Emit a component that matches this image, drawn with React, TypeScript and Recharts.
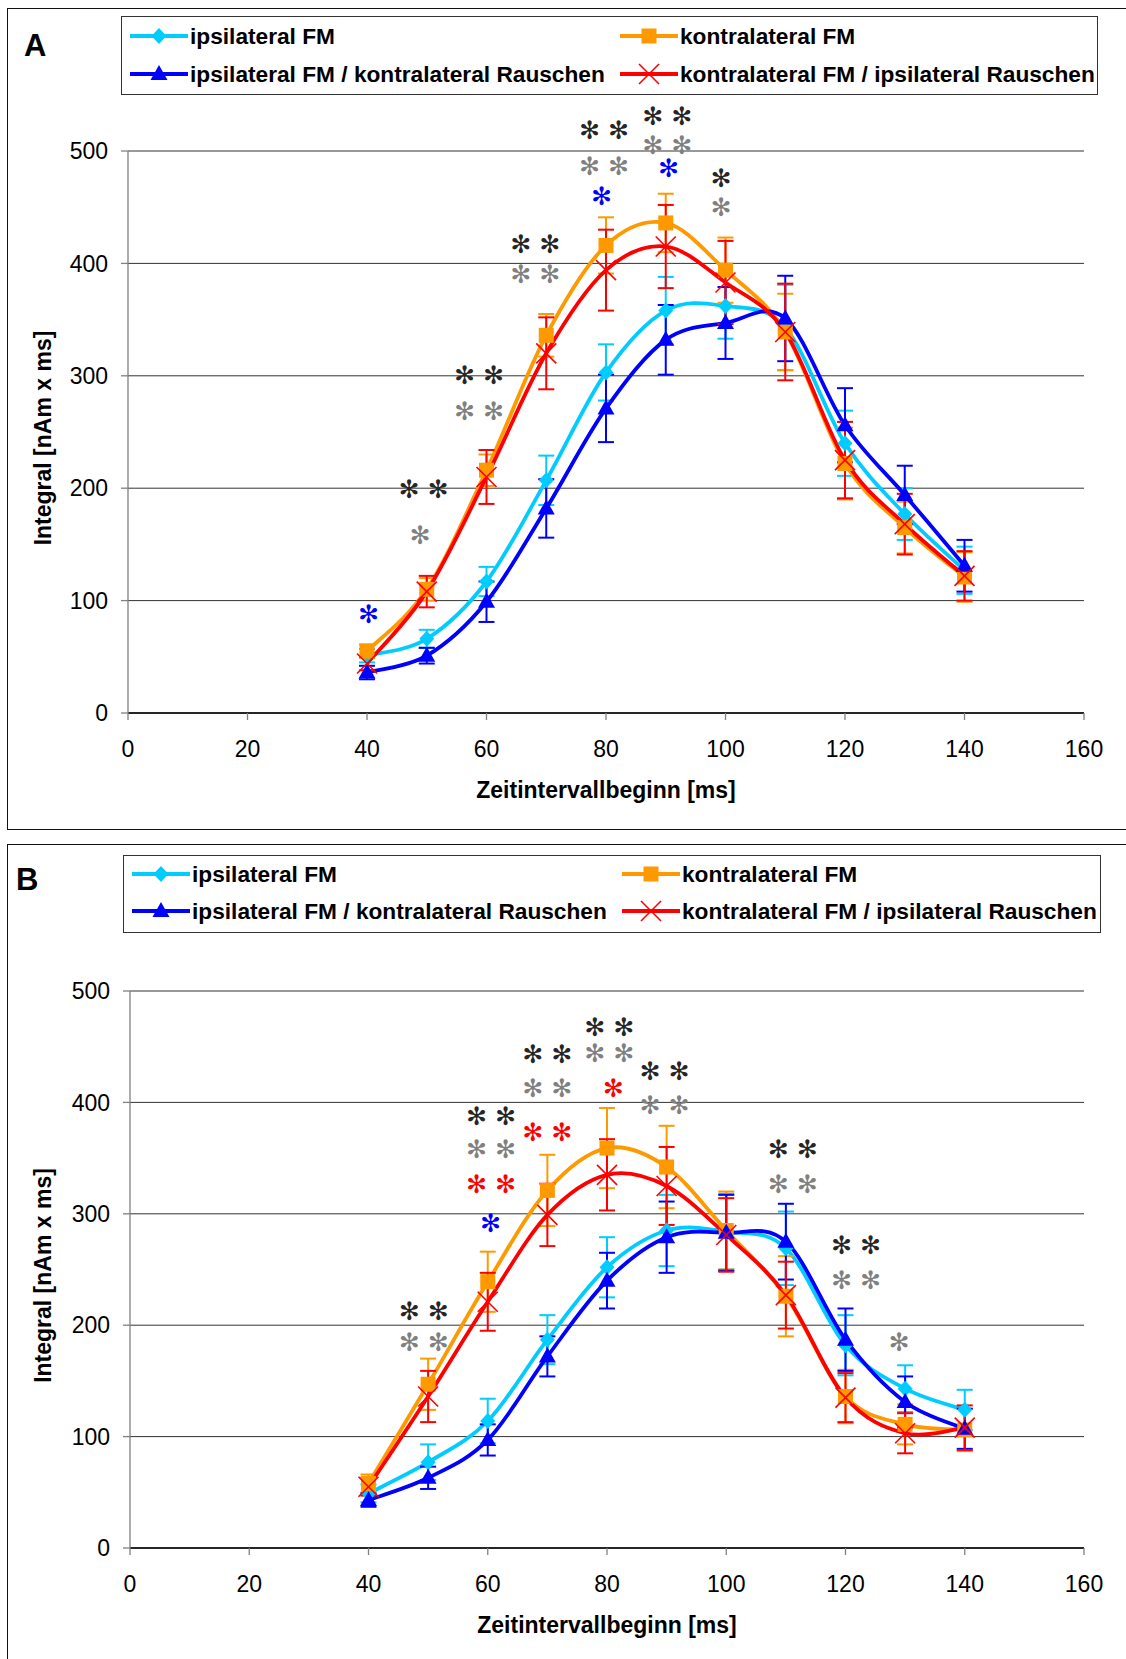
import React from 'react';
import { ComposedChart, Line, XAxis, YAxis, CartesianGrid, ErrorBar, ReferenceDot, Label } from 'recharts';

// ---------- data ----------
const xValues = [40, 50, 60, 70, 80, 90, 100, 110, 120, 130, 140];
const xTicks = [0, 20, 40, 60, 80, 100, 120, 140, 160];
const yTicks = [0, 100, 200, 300, 400, 500];
const seriesNames = [
  'ipsilateral FM',
  'kontralateral FM',
  'ipsilateral FM / kontralateral Rauschen',
  'kontralateral FM / ipsilateral Rauschen',
];
const xTitle = 'Zeitintervallbeginn [ms]';
const yTitle = 'Integral [nAm x ms]';

// Panel A
const cyanA = [51, 66, 117, 207, 303, 358, 362, 343, 240, 177, 127];
const orangeA = [55, 110, 216, 336, 416, 436, 394, 339, 222, 165, 121];
const blueA = [36, 51, 99, 182, 271, 332, 347, 351, 256, 194, 131];
const redA = [44, 108, 210, 320, 394, 415, 383, 339, 225, 168, 122];
const cyanErrA = [6, 8, 13, 22, 25, 30, 29, 38, 29, 23, 21];
const orangeErrA = [6, 10, 14, 19, 25, 26, 29, 34, 32, 23, 22];
const blueErrA = [6, 7, 18, 26, 30, 31, 32, 38, 33, 26, 23];
const redErrA = [6, 14, 24, 32, 36, 37, 37, 43, 34, 27, 22];

// Panel B
const cyanB = [49, 77, 114, 187, 252, 285, 284, 269, 182, 143, 124];
const orangeB = [58, 147, 239, 321, 359, 342, 285, 226, 136, 111, 106];
const blueB = [43, 63, 97, 172, 240, 279, 283, 275, 187, 131, 107];
const redB = [55, 136, 221, 299, 335, 325, 281, 227, 135, 103, 108];
const cyanErrB = [8, 16, 20, 22, 27, 32, 34, 33, 27, 21, 18];
const orangeErrB = [8, 23, 27, 32, 36, 37, 35, 36, 24, 18, 19];
const blueErrB = [6, 10, 14, 18, 25, 32, 34, 34, 28, 23, 18];
const redErrB = [8, 23, 26, 28, 32, 35, 33, 30, 22, 18, 20];

// significance stars: [x, y, count, colour]
const starsA: [number, number, number, string][] = [
  [40.3, 88, 1, 'blue'],
  [49.5, 199, 2, 'dark'],
  [48.9, 158, 1, 'gray'],
  [58.8, 301, 2, 'dark'],
  [58.8, 269, 2, 'gray'],
  [68.2, 417, 2, 'dark'],
  [68.2, 391, 2, 'gray'],
  [79.7, 519, 2, 'dark'],
  [79.7, 487, 2, 'gray'],
  [79.3, 460, 1, 'blue'],
  [90.3, 531, 2, 'dark'],
  [90.3, 505, 2, 'gray'],
  [90.5, 485, 1, 'blue'],
  [99.3, 476, 1, 'dark'],
  [99.3, 450, 1, 'gray'],
];
const starsB: [number, number, number, string][] = [
  [49.3, 213, 2, 'dark'],
  [49.3, 185, 2, 'gray'],
  [60.6, 388, 2, 'dark'],
  [60.6, 358, 2, 'gray'],
  [60.6, 327, 2, 'red'],
  [60.5, 292, 1, 'blue'],
  [70.0, 443, 2, 'dark'],
  [70.0, 413, 2, 'gray'],
  [70.0, 373, 2, 'red'],
  [80.4, 468, 2, 'dark'],
  [80.4, 444, 2, 'gray'],
  [81.1, 413, 1, 'red'],
  [89.7, 428, 2, 'dark'],
  [89.7, 398, 2, 'gray'],
  [111.2, 358, 2, 'dark'],
  [111.2, 327, 2, 'gray'],
  [121.8, 272, 2, 'dark'],
  [121.8, 241, 2, 'gray'],
  [129.0, 185, 1, 'gray'],
];

// ---------- styles ----------
const FONT = '"Liberation Sans", Arial, sans-serif';
const COL = { cyan: '#00CCFF', orange: '#FF9900', blue: '#0000FF', red: '#FF0000' };
const STAR_COL: Record<string, string> = { dark: '#262626', gray: '#808080', blue: '#0000FF', red: '#FF0000' };
const seriesColors = [COL.cyan, COL.orange, COL.blue, COL.red];
const seriesMarkers = ['diamond', 'square', 'triangle', 'cross'];

// Excel-like smoothed curve (Catmull-Rom as cubic Bezier)
const smoothCurve: any = (context: any) => {
  let pts: number[][] = [];
  return {
    areaStart() {},
    areaEnd() {},
    lineStart() { pts = []; },
    point(x: number, y: number) { pts.push([+x, +y]); },
    lineEnd() {
      if (!pts.length) return;
      context.moveTo(pts[0][0], pts[0][1]);
      for (let i = 0; i < pts.length - 1; i++) {
        const p0 = pts[i - 1] || pts[i];
        const p1 = pts[i];
        const p2 = pts[i + 1];
        const p3 = pts[i + 2] || pts[i + 1];
        context.bezierCurveTo(
          p1[0] + (p2[0] - p0[0]) / 6, p1[1] + (p2[1] - p0[1]) / 6,
          p2[0] - (p3[0] - p1[0]) / 6, p2[1] - (p3[1] - p1[1]) / 6,
          p2[0], p2[1]
        );
      }
    },
  };
};

function Marker({ kind, cx, cy, color }: { kind: string; cx: number; cy: number; color: string }) {
  if (kind === 'diamond') {
    return <polygon points={`${cx},${cy - 8} ${cx + 7.5},${cy} ${cx},${cy + 8} ${cx - 7.5},${cy}`} fill={color} />;
  }
  if (kind === 'square') {
    return <rect x={cx - 7.5} y={cy - 7.5} width={15} height={15} fill={color} />;
  }
  if (kind === 'triangle') {
    return <polygon points={`${cx},${cy - 9} ${cx + 8.5},${cy + 6} ${cx - 8.5},${cy + 6}`} fill={color} />;
  }
  return (
    <g stroke={color} strokeWidth={1.6}>
      <line x1={cx - 10} y1={cy - 10} x2={cx + 10} y2={cy + 10} />
      <line x1={cx - 10} y1={cy + 10} x2={cx + 10} y2={cy - 10} />
    </g>
  );
}

const makeDot = (kind: string, color: string) => (props: any) => {
  const { cx, cy, index } = props;
  if (cx == null || cy == null) return <g key={`n-${kind}-${index}`} />;
  return (
    <g key={`${kind}-${index}`}>
      <Marker kind={kind} cx={cx} cy={cy} color={color} />
    </g>
  );
};

const makeStar = (count: number, color: string) => (p: any) => {
  const offs = count === 2 ? [-14.5, 14.5] : [0];
  return (
    <text y={p.cy} fill={color} fontSize={25} fontFamily='"DejaVu Sans", sans-serif'
      textAnchor="middle" dominantBaseline="central">
      {offs.map((o, i) => (
        <tspan key={i} x={p.cx + o}>✻</tspan>
      ))}
    </text>
  );
};

function Legend({ left, top, width, height, rows, col1, col2 }: any) {
  const entries = [
    { i: 0, x: col1, y: rows[0] },
    { i: 1, x: col2, y: rows[0] },
    { i: 2, x: col1, y: rows[1] },
    { i: 3, x: col2, y: rows[1] },
  ];
  return (
    <div style={{ position: 'absolute', left, top, width, height, border: '1.5px solid #333', boxSizing: 'border-box', background: '#fff' }}>
      {entries.map((e) => (
        <div key={e.i} style={{ position: 'absolute', left: e.x, top: e.y - 15, height: 30, display: 'flex', alignItems: 'center' }}>
          <svg width={60} height={30} style={{ display: 'block' }}>
            <line x1={1} y1={15} x2={59} y2={15} stroke={seriesColors[e.i]} strokeWidth={3.8} />
            <Marker kind={seriesMarkers[e.i]} cx={30} cy={15} color={seriesColors[e.i]} />
          </svg>
          <span style={{ marginLeft: 1, fontFamily: FONT, fontWeight: 'bold', fontSize: 22.7, color: '#000', whiteSpace: 'nowrap' }}>
            {seriesNames[e.i]}
          </span>
        </div>
      ))}
    </div>
  );
}

function Panel({ width, height, top, yAxisWidth, marginBottom, cyan, orange, blue, red, cyanErr, orangeErr, blueErr, redErr, stars }: any) {
  const data = xValues.map((x, i) => ({
    x,
    c: cyan[i], cE: cyanErr[i],
    o: orange[i], oE: orangeErr[i],
    b: blue[i], bE: blueErr[i],
    r: red[i], rE: redErr[i],
  }));
  const series = [
    { key: 'c', err: 'cE', color: COL.cyan, kind: 'diamond' },
    { key: 'o', err: 'oE', color: COL.orange, kind: 'square' },
    { key: 'b', err: 'bE', color: COL.blue, kind: 'triangle' },
    { key: 'r', err: 'rE', color: COL.red, kind: 'cross' },
  ];
  return (
    <div style={{ position: 'absolute', left: 0, top }}>
      <ComposedChart width={width} height={height} data={data}
        margin={{ top: 151, right: 42, bottom: marginBottom, left: 0 }}>
        <CartesianGrid horizontal vertical={false} stroke="#333" strokeWidth={1} />
        <XAxis dataKey="x" type="number" domain={[0, 160]} ticks={xTicks} interval={0} height={40}
          tickSize={7} tickMargin={21} axisLine={{ stroke: '#000', strokeWidth: 1.5 }} tickLine={{ stroke: '#808080', strokeWidth: 1.3 }}
          tick={{ fill: '#000', fontSize: 23, fontFamily: FONT }}>
          <Label content={(p: any) => {
            const vb = p.viewBox || {};
            return (
              <text x={vb.x + vb.width / 2} y={vb.y + 77} textAnchor="middle" dominantBaseline="central"
                fontFamily={FONT} fontWeight="bold" fontSize={23} fill="#000">{xTitle}</text>
            );
          }} />
        </XAxis>
        <YAxis type="number" domain={[0, 500]} ticks={yTicks} interval={0} width={yAxisWidth}
          tickSize={7} tickMargin={13} axisLine={{ stroke: '#808080', strokeWidth: 1.3 }} tickLine={{ stroke: '#808080', strokeWidth: 1.3 }}
          tick={{ fill: '#000', fontSize: 23, fontFamily: FONT }}>
          <Label content={(p: any) => {
            const vb = p.viewBox || {};
            const cx = vb.x + 43;
            const cy = vb.y + vb.height / 2 + 6;
            return (
              <text x={cx} y={cy} transform={`rotate(-90 ${cx} ${cy})`} textAnchor="middle" dominantBaseline="central"
                fontFamily={FONT} fontWeight="bold" fontSize={23} fill="#000">{yTitle}</text>
            );
          }} />
        </YAxis>
        {series.map((s) => (
          <Line key={s.key} dataKey={s.key} type={smoothCurve} stroke={s.color} strokeWidth={3.8}
            dot={makeDot(s.kind, s.color)} activeDot={false} isAnimationActive={false} legendType="none">
            <ErrorBar dataKey={s.err} width={8} strokeWidth={2} stroke={s.color} direction="y" />
          </Line>
        ))}
        {stars.map((s: [number, number, number, string], i: number) => (
          <ReferenceDot key={`st-${i}`} x={s[0]} y={s[1]} r={0} ifOverflow="visible"
            shape={makeStar(s[2], STAR_COL[s[3]])} />
        ))}
      </ComposedChart>
    </div>
  );
}

export default function App() {
  return (
    <div style={{ position: 'relative', width: 1126, height: 1659, overflow: 'hidden', background: '#fff' }}>
      <style>{'body{margin:0;}'}</style>
      <div style={{ position: 'absolute', left: 7, top: 8, width: 1200, height: 822, border: '1.5px solid #111', boxSizing: 'border-box' }} />
      <div style={{ position: 'absolute', left: 7, top: 844, width: 1200, height: 900, border: '1.5px solid #111', boxSizing: 'border-box' }} />
      <Panel width={1126} height={840} top={0} yAxisWidth={128} marginBottom={87}
        cyan={cyanA} orange={orangeA} blue={blueA} red={redA}
        cyanErr={cyanErrA} orangeErr={orangeErrA} blueErr={blueErrA} redErr={redErrA} stars={starsA} />
      <Panel width={1126} height={819} top={840} yAxisWidth={130} marginBottom={71}
        cyan={cyanB} orange={orangeB} blue={blueB} red={redB}
        cyanErr={cyanErrB} orangeErr={orangeErrB} blueErr={blueErrB} redErr={redErrB} stars={starsB} />
      <Legend left={121} top={16} width={977} height={79} rows={[19, 57]} col1={7} col2={497} />
      <Legend left={123} top={855} width={978} height={78} rows={[18, 55]} col1={7} col2={497} />
      <div style={{ position: 'absolute', left: 24, top: 28, fontFamily: FONT, fontWeight: 'bold', fontSize: 31, color: '#000' }}>A</div>
      <div style={{ position: 'absolute', left: 16, top: 862, fontFamily: FONT, fontWeight: 'bold', fontSize: 31, color: '#000' }}>B</div>
    </div>
  );
}
